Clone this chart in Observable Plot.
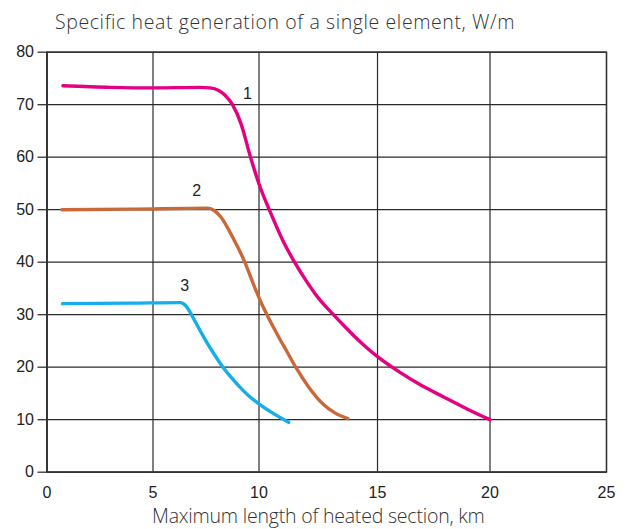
<!DOCTYPE html>
<html>
<head>
<meta charset="utf-8">
<script src="https://cdn.jsdelivr.net/npm/d3@7"></script>
<script src="https://cdn.jsdelivr.net/npm/@observablehq/plot@0.6"></script>
<style>
  html, body { margin: 0; padding: 0; background: #fff; }
  #wrap { position: relative; width: 630px; height: 529px; overflow: hidden; }
  .lbl { position: absolute; font-family: "Open Sans", "Noto Sans", sans-serif; font-weight: 300; font-size: 19.5px; line-height: 1.2; color: #333; white-space: nowrap; }
  #title { left: 55px; top: 10px; letter-spacing: 0.6px; }
  #xlabel { left: 152px; top: 504px; letter-spacing: -0.2px; }
  svg { display: block; }
</style>
</head>
<body>
<div id="wrap">
  <div id="chart"></div>
  <div id="title" class="lbl">Specific heat generation of a single element, W/m</div>
  <div id="xlabel" class="lbl">Maximum length of heated section, km</div>
</div>
<script>
// Tick values
const xTicks = [0, 5, 10, 15, 20, 25];
const yTicks = [0, 10, 20, 30, 40, 50, 60, 70, 80];

// Curve 1 (magenta)
const c1x = [0.75, 3, 5, 7.2, 7.7, 8.1, 8.4, 8.75, 9.15, 9.6, 10.0, 10.5, 11.0, 11.5, 12.0, 12.5, 13.1, 13.5, 14.0, 14.5, 15.0, 16.0, 17.0, 18.0, 19.0, 20.0];
const c1y = [73.6, 73.3, 73.2, 73.3, 73.2, 72.7, 71.8, 70.0, 66.4, 60.0, 54.9, 49.3, 44.2, 40.0, 36.4, 33.2, 30.2, 28.3, 26.0, 23.9, 22.0, 19.0, 16.4, 14.2, 12.0, 10.0];
// Curve 2 (orange)
const c2x = [0.7, 4, 7.6, 7.9, 8.2, 8.75, 9.3, 9.7, 10.05, 10.4, 10.8, 11.2, 11.55, 12.1, 12.7, 13.2, 13.75];
const c2y = [50.0, 50.1, 50.3, 49.8, 48.6, 44.8, 40.3, 36.2, 32.7, 29.4, 26.0, 22.8, 20.0, 16.2, 13.0, 11.3, 10.2];
// Curve 3 (cyan)
const c3x = [0.73, 4, 6.3, 6.55, 6.75, 7.0, 7.4, 7.85, 8.3, 8.7, 9.1, 9.5, 9.9, 10.6, 11.25];
const c3y = [32.1, 32.2, 32.3, 31.7, 30.5, 28.6, 25.7, 22.7, 20.0, 18.0, 16.2, 14.6, 13.3, 11.2, 9.5];

// Curve labels
const labelText = ["1", "2", "3"];
const labelX = [9.46, 7.06, 6.49];
const labelY = [72.1, 53.6, 35.4];

const seriesColors = ["#e4007f", "#c9693a", "#14aee8"];

// The printed grid is slightly uneven: map km onto its drawn spacing
const warp = d3.scaleLinear()
  .domain([0, 5, 10, 15, 20, 25])
  .range([0, 4.736, 9.473, 14.768, 19.795, 25]);

const toPts = (xs, ys) => xs.map((x, i) => ({x, y: ys[i]}));
const series = [toPts(c1x, c1y), toPts(c2x, c2y), toPts(c3x, c3y)];
const labels = labelText.map((t, i) => ({t, x: labelX[i], y: labelY[i]}));

const chart = Plot.plot({
  width: 630,
  height: 529,
  marginLeft: 46.5,
  marginRight: 24,
  marginTop: 51.7,
  marginBottom: 57.3,
  style: {fontFamily: "'Liberation Sans', Arial, sans-serif", fontSize: "16px", color: "#222", background: "#fff"},
  x: {domain: [0, 25], transform: warp},
  y: {domain: [0, 80]},
  marks: [
    Plot.gridX(xTicks, {stroke: "#2a2a2a", strokeOpacity: 1, strokeWidth: 1.2}),
    Plot.gridY(yTicks, {stroke: "#2a2a2a", strokeOpacity: 1, strokeWidth: 1.2}),
    Plot.frame({stroke: "#333", strokeWidth: 1.4}),
    Plot.axisX(xTicks, {tickSize: 0, tickPadding: 14, label: null, fontSize: 16, fill: "#222"}),
    Plot.axisY(yTicks, {tickSize: 9, tickPadding: 4, label: null, fontSize: 16, fill: "#222", stroke: "#333", strokeWidth: 1.3}),
    Plot.ruleY([0], {stroke: "#333", strokeWidth: 1.6}),
    Plot.ruleX([0], {stroke: "#333", strokeWidth: 1.6}),
    ...series.map((s, i) => Plot.line(s, {x: "x", y: "y", stroke: seriesColors[i], strokeWidth: 3.4, curve: "monotone-x"})),
    Plot.text(labels, {x: "x", y: "y", text: "t", fontSize: 16, fill: "#222"})
  ]
});
document.getElementById("chart").appendChild(chart);
</script>
</body>
</html>
